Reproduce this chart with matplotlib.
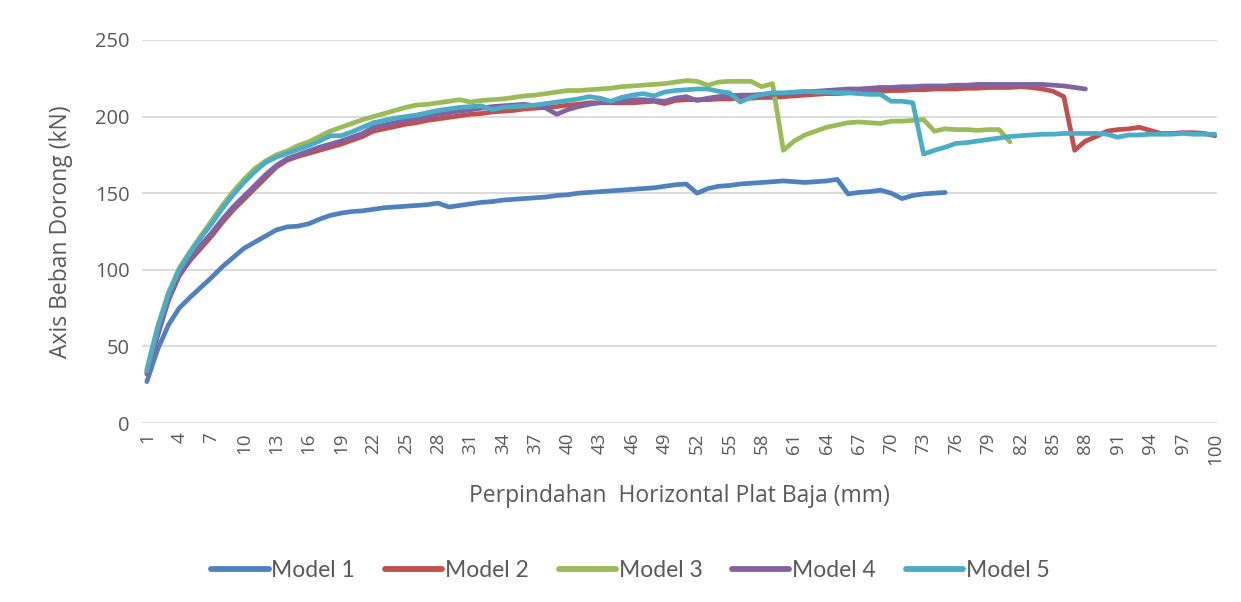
import numpy as np
import matplotlib.pyplot as plt

# Data (kN), x = step 1..N
model_1 = [27, 48, 64, 75, 82, 88.5, 95, 102, 108, 114, 118, 122, 126, 128, 128.5, 130, 133, 135.5, 137, 138,
           138.5, 139.5, 140.5, 141, 141.5, 142, 142.5, 143.5, 141, 142, 143, 144, 144.5, 145.5, 146, 146.5, 147, 147.5, 148.5, 149,
           150, 150.5, 151, 151.5, 152, 152.5, 153, 153.5, 154.5, 155.5, 156, 150, 153, 154.5, 155, 156, 156.5, 157, 157.5, 158,
           157.5, 157, 157.5, 158, 159, 149.5, 150.5, 151, 152, 150, 146.5, 148.5, 149.5, 150, 150.5]

model_2 = [32, 57, 80, 96, 106, 114, 122, 131, 139, 146, 153, 160, 167, 171.5, 174, 176, 178, 180, 182, 184.5,
           187, 190.5, 192, 193.5, 195, 196, 197.5, 198.5, 199.5, 200.5, 201.5, 202, 203, 203.5, 204, 205, 205.5, 206, 206.5, 207.5,
           208, 209, 209, 209, 209, 209, 209.5, 210, 208.5, 210.5, 211, 211, 211, 211.5, 211.5, 212, 212, 212.5, 212.5, 213,
           213.5, 214, 214.5, 215, 215, 215.5, 216, 216, 216.5, 217, 217, 217.5, 217.5, 218, 218, 218, 218.5, 218.5, 219, 219,
           219, 219.5, 219, 218, 216.5, 213, 178, 184, 187, 190.5, 191.5, 192, 193, 191, 189, 189, 189.5, 189.5, 189, 187.5]

model_3 = [35, 63, 85, 101, 112, 122, 132, 142, 151, 159, 166, 171, 175, 177.5, 181, 183.5, 187, 190.5, 193, 195.5,
           198, 200, 202, 204, 206, 207.5, 208, 209, 210, 211, 209.5, 210.5, 211, 211.5, 212.5, 213.5, 214, 215, 216, 217,
           217, 217.5, 218, 218.5, 219.5, 220, 220.5, 221, 221.5, 222.5, 223.5, 223, 220.5, 222.5, 223, 223, 223, 219.5, 221.5, 178,
           184, 188, 190.5, 193, 194.5, 196, 196.5, 196, 195.5, 197, 197, 197.5, 198, 190.5, 192, 191.5, 191.5, 191, 191.5, 191.5,
           183.5]

model_4 = [33, 58, 81, 97, 107, 116, 124, 133, 141, 148, 155, 162, 168, 172.5, 175, 177.5, 180, 182, 184, 186.5,
           189, 193, 194.5, 196, 197.5, 198.5, 200, 201.5, 202.5, 203.5, 204.5, 205.5, 206.5, 207, 207.5, 208, 207, 205.5, 201.5, 204.5,
           206.5, 208, 209, 209.5, 210, 211, 211, 210.5, 210, 212, 213, 210.5, 212, 213, 213.5, 214, 214, 214.5, 214.5, 215,
           215.5, 216, 216.5, 217, 217.5, 218, 218, 218.5, 219, 219, 219.5, 219.5, 220, 220, 220, 220.5, 220.5, 221, 221, 221,
           221, 221, 221, 221, 220.5, 220, 219, 218]

model_5 = [34, 62, 84, 100, 111, 121, 130, 140, 149, 157, 164, 170, 173.5, 176, 178.5, 181, 184, 187.5, 187.5, 190,
           193, 196, 197.5, 199, 200, 201, 202.5, 204, 205, 206, 206.5, 207, 204.5, 206, 206.5, 207, 207.5, 208.5, 209.5, 210.5,
           211.5, 213, 212, 210, 212.5, 214, 215, 213.5, 216, 217, 217.5, 218, 218, 216.5, 215.5, 209.5, 212.5, 214.5, 215.5, 215.5,
           216, 216.5, 216, 216, 215.5, 215.5, 215, 214.5, 214.5, 210, 210, 209, 175.5, 178, 180, 182.5, 183, 184, 185, 186,
           187, 187.5, 188, 188.5, 188.5, 189, 189, 189, 189, 188.5, 186.5, 188, 188, 188.5, 188.5, 188.5, 189, 188.5, 188.5, 188.5]

series = [("Model 1", model_1, "#4F81BD"),
          ("Model 2", model_2, "#C0504D"),
          ("Model 3", model_3, "#9BBB59"),
          ("Model 4", model_4, "#8064A2"),
          ("Model 5", model_5, "#4BACC6")]

x_ticks = list(range(1, 101, 3))
y_ticks = [0, 50, 100, 150, 200, 250]

plt.rcParams['font.family'] = ['Open Sans', 'DejaVu Sans']
txt = "#595959"

fig = plt.figure(figsize=(12.41, 6.02), dpi=100)
ax = fig.add_axes([0.1144, 0.2973, 0.8663, 0.6363])

for name, vals, col in series:
    xs = np.arange(1, len(vals) + 1)
    ax.plot(xs, vals, color=col, lw=3.4, label=name, solid_capstyle='round', solid_joinstyle='round')

ax.set_xlim(0.55, 100.2)
ax.set_ylim(0, 250)
ax.set_xticks(x_ticks)
ax.set_xticklabels([str(t) for t in x_ticks], rotation=90, fontsize=13.5, color=txt)
ax.set_yticks(y_ticks)
ax.set_yticklabels([str(t) for t in y_ticks], fontsize=14.5, color=txt)
ax.tick_params(axis='x', length=0, pad=7)
ax.tick_params(axis='y', length=0, pad=9)
ax.grid(axis='y', color="#D9D9D9", lw=1.3)
ax.set_axisbelow(True)
for s in ax.spines.values():
    s.set_visible(False)

ax.set_xlabel("Perpindahan  Horizontal Plat Baja (mm)", fontsize=16.5, color=txt, labelpad=14)
ax.set_ylabel("Axis Beban Dorong (kN)", fontsize=16.5, color=txt, labelpad=16)

leg = fig.legend(loc='center', bbox_to_anchor=(0.508, 0.052), ncol=5, frameon=False,
                 handlelength=2.5, handletextpad=0.12, columnspacing=1.3,
                 prop={'family': ['Lato', 'DejaVu Sans'], 'size': 16.5})
for t in leg.get_texts():
    t.set_color(txt)
for h in leg.get_lines():
    h.set_linewidth(4.2)

fig.savefig("out.png", dpi=100)
